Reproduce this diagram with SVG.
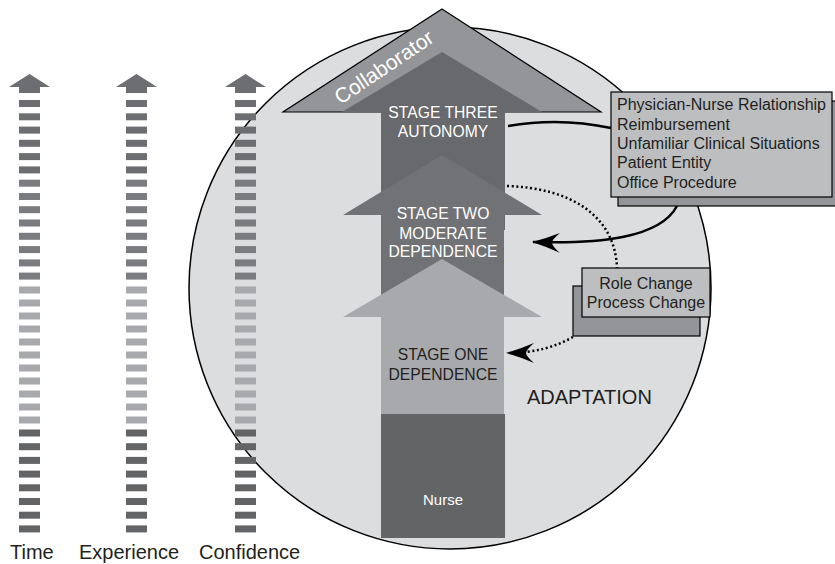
<svg xmlns="http://www.w3.org/2000/svg" width="835" height="564" viewBox="0 0 835 564">
<style>
text{font-family:"Liberation Sans",Arial,sans-serif}
.w{fill:#ffffff}
.k{fill:#231f20}
.lab{font-size:20px;fill:#231f20}
.stg{font-size:15.7px;text-anchor:middle}
.box{font-size:16px;fill:#231f20}
.bd{fill:#6d6e71}.bm{fill:#7b7c7f}.bl{fill:#a7a9ac}.bk{fill:#636466}
.con{fill:none;stroke:#000;stroke-width:2.5}
.dot{fill:none;stroke:#000;stroke-width:2.5;stroke-dasharray:2 2.6}
</style>
<defs>
<marker id="arr" markerUnits="userSpaceOnUse" viewBox="0 -11 29 22" markerWidth="29" markerHeight="22" refX="27" refY="0" orient="auto">
<path d="M28,0 Q14,-4 0,-10 Q8,-3 8,0 Q8,3 0,10 Q14,4 28,0Z" fill="#000"/>
</marker>
<g id="bars">
<rect class="bd" x="0" y="100" width="21" height="7"/>
<rect class="bd" x="0" y="113.3" width="21" height="7"/>
<rect class="bd" x="0" y="126.6" width="21" height="7"/>
<rect class="bd" x="0" y="139.8" width="21" height="7"/>
<rect class="bd" x="0" y="153.1" width="21" height="7"/>
<rect class="bd" x="0" y="166.4" width="21" height="7"/>
<rect class="bm" x="0" y="179.7" width="21" height="7"/>
<rect class="bm" x="0" y="193" width="21" height="7"/>
<rect class="bm" x="0" y="206.2" width="21" height="7"/>
<rect class="bm" x="0" y="219.5" width="21" height="7"/>
<rect class="bm" x="0" y="232.8" width="21" height="7"/>
<rect class="bm" x="0" y="246.1" width="21" height="7"/>
<rect class="bm" x="0" y="259.4" width="21" height="7"/>
<rect class="bm" x="0" y="272.6" width="21" height="7"/>
<rect class="bl" x="0" y="286.5" width="21" height="7"/>
<rect class="bl" x="0" y="299.5" width="21" height="7"/>
<rect class="bl" x="0" y="312.5" width="21" height="7"/>
<rect class="bl" x="0" y="325.5" width="21" height="7"/>
<rect class="bl" x="0" y="338.5" width="21" height="7"/>
<rect class="bl" x="0" y="351.5" width="21" height="7"/>
<rect class="bl" x="0" y="364.5" width="21" height="7"/>
<rect class="bl" x="0" y="377.5" width="21" height="7"/>
<rect class="bl" x="0" y="390.5" width="21" height="7"/>
<rect class="bl" x="0" y="403.5" width="21" height="7"/>
<rect class="bl" x="0" y="416.5" width="21" height="7"/>
<rect class="bk" x="0" y="429.5" width="21" height="7"/>
<rect class="bk" x="0" y="443.2" width="21" height="7"/>
<rect class="bk" x="0" y="456.9" width="21" height="7"/>
<rect class="bk" x="0" y="470.6" width="21" height="7"/>
<rect class="bk" x="0" y="484.3" width="21" height="7"/>
<rect class="bk" x="0" y="498" width="21" height="7"/>
<rect class="bk" x="0" y="511.7" width="21" height="7"/>
<rect class="bk" x="0" y="525.4" width="21" height="7"/>
<path class="bd" d="M10.5,74 L31,87 L21,87 L21,93 L0,93 L0,87 L-10,87 Z"/>
</g>
</defs>

<g id="circle">
<circle cx="450" cy="288" r="261" fill="#dcdddf" stroke="#000" stroke-width="1.5"/>
</g>

<g id="time"><use href="#bars" x="19"/><text class="lab" x="10" y="559">Time</text></g>
<g id="experience"><use href="#bars" x="126"/><text class="lab" x="79" y="559">Experience</text></g>
<g id="confidence"><use href="#bars" x="235"/><text class="lab" x="199" y="559">Confidence</text></g>

<g id="stage-three">
<polygon points="442,9 601,112 283,112" fill="#939598" stroke="#000" stroke-width="1.2" stroke-linejoin="miter"/>
<polygon points="442,52 542,112 505,112 505,230 381,230 381,112 342,112" fill="#68696c"/>
<text x="388" y="73" transform="rotate(-34 388 73)" class="w" style="font-size:21px;text-anchor:middle">Collaborator</text>
<text class="stg w" x="443" y="118">STAGE THREE</text>
<text class="stg w" x="443" y="137">AUTONOMY</text>
</g>

<g id="stage-two">
<polygon points="442,155 542,215 504,215 504,320 381,320 381,215 343,215" fill="#717275"/>
<text class="stg w" x="443" y="219">STAGE TWO</text>
<text class="stg w" x="443" y="239">MODERATE</text>
<text class="stg w" x="443" y="257">DEPENDENCE</text>
</g>

<g id="stage-one">
<polygon points="442,259 542,317 504,317 504,414 381,414 381,317 343,317" fill="#a7a9ac"/>
<text class="stg k" x="443" y="360">STAGE ONE</text>
<text class="stg k" x="443" y="380">DEPENDENCE</text>
</g>

<g id="nurse">
<rect x="381" y="414" width="124" height="124" fill="#636466"/>
<text class="w" x="443" y="505" style="font-size:15px;text-anchor:middle">Nurse</text>
</g>

<g id="adaptation">
<text class="k" x="527" y="404" style="font-size:20px">ADAPTATION</text>
</g>

<g id="factors">
<rect x="618" y="101" width="222" height="105" fill="#939598" stroke="#000" stroke-width="1.2"/>
<rect x="611" y="92" width="221" height="105" fill="#bcbec0" stroke="#000" stroke-width="1.2"/>
<text class="box" x="617" y="110">Physician-Nurse Relationship</text>
<text class="box" x="617" y="130">Reimbursement</text>
<text class="box" x="617" y="149">Unfamiliar Clinical Situations</text>
<text class="box" x="617" y="168">Patient Entity</text>
<text class="box" x="617" y="188">Office Procedure</text>
</g>

<g id="changes">
<rect x="573" y="286" width="127" height="50" fill="#939598" stroke="#000" stroke-width="1.2"/>
<rect x="582" y="268" width="128" height="49" fill="#bcbec0" stroke="#000" stroke-width="1.2"/>
<text class="box" x="646" y="289" style="text-anchor:middle">Role Change</text>
<text class="box" x="646" y="308" style="text-anchor:middle">Process Change</text>
</g>

<g id="connectors">
<path class="con" d="M508,126 Q560,117 611,128"/>
<path class="con" d="M677,206 C660,238 600,244 533,242" marker-end="url(#arr)"/>
<path class="dot" d="M507,186 C570,188 615,215 617,268"/>
<path class="dot" d="M573,337 C555,347 535,353 507,353" marker-end="url(#arr)"/>
</g>
</svg>
